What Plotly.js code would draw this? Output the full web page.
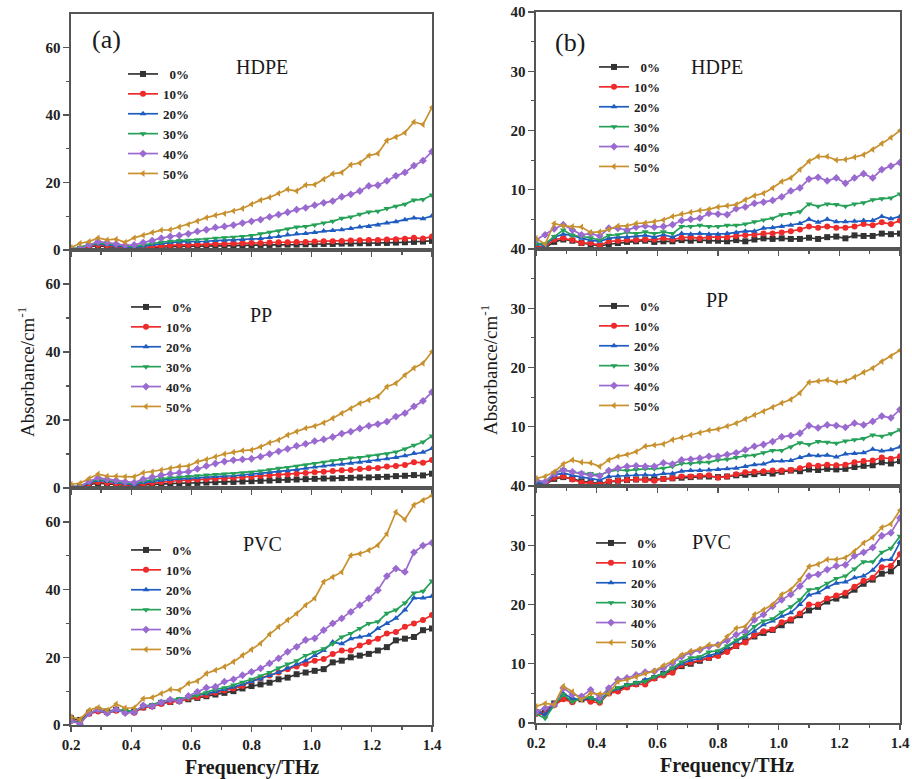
<!DOCTYPE html>
<html>
<head>
<meta charset="utf-8">
<script src="https://cdn.plot.ly/plotly-3.0.1.min.js"></script>
<style>html,body{margin:0;padding:0;background:#fff;}#chart{width:912px;height:779px;}</style>
</head>
<body>
<div id="chart"></div>
<script>
// Frequency axis (THz)
const freq = [0.20,0.23,0.26,0.29,0.32,0.35,0.38,0.41,0.44,0.47,0.50,0.53,0.56,0.59,0.62,0.65,0.68,0.71,0.74,0.77,0.80,0.83,0.86,0.89,0.92,0.95,0.98,1.01,1.04,1.07,1.10,1.13,1.16,1.19,1.22,1.25,1.28,1.31,1.34,1.37,1.40];
const seriesNames = ['0%','10%','20%','30%','40%','50%'];

// (a) HDPE
const aHDPE_0  = [0.1,0.3,1.0,1.2,1.0,0.8,0.6,0.4,0.6,0.8,0.9,1.0,1.1,1.1,1.2,1.2,1.3,1.3,1.3,1.4,1.4,1.5,1.5,1.6,1.6,1.6,1.7,1.7,1.8,1.8,1.9,1.9,2.0,2.0,2.1,2.1,2.2,2.3,2.4,2.5,2.7];
const aHDPE_10 = [0.2,0.4,1.2,1.5,1.3,1.0,0.8,0.5,0.8,1.0,1.2,1.4,1.5,1.5,1.6,1.7,1.8,1.8,1.9,2.0,2.1,2.1,2.2,2.3,2.3,2.4,2.4,2.5,2.6,2.6,2.7,2.8,2.9,3.0,3.0,3.1,3.2,3.3,3.6,3.4,4.0];
const aHDPE_20 = [0.3,0.5,1.5,1.8,1.6,1.2,1.0,0.8,1.2,1.6,2.0,2.2,2.4,2.4,2.5,2.6,2.8,2.9,3.0,3.1,3.3,3.4,3.7,4.0,4.5,4.8,4.9,5.2,5.6,5.8,6.0,6.4,6.8,7.0,7.4,8.0,8.4,9.0,9.5,9.3,10.1];
const aHDPE_30 = [0.3,0.8,1.6,2.0,1.8,1.5,1.3,1.0,1.5,2.0,2.3,2.6,2.8,2.9,3.0,3.2,3.5,3.6,3.8,4.0,4.3,4.8,5.3,5.6,6.2,6.8,7.0,7.4,8.0,8.5,9.4,9.8,10.6,11.3,11.5,12.3,13.0,13.6,14.8,15.0,16.3];
const aHDPE_40 = [0.5,0.3,1.5,2.5,2.2,1.8,1.4,1.5,2.2,2.8,3.5,4.0,4.3,4.8,5.5,6.0,6.7,7.0,7.4,8.0,8.5,9.0,9.8,10.5,11.2,12.0,12.5,13.3,14.0,14.5,15.8,16.5,17.5,19.0,19.2,20.5,22.0,23.0,25.0,26.5,29.2];
const aHDPE_50 = [0.7,2.0,2.5,3.6,3.0,3.2,2.3,3.6,4.4,5.2,5.9,6.0,6.8,7.6,8.6,9.6,10.3,10.8,11.6,12.3,13.6,14.8,15.6,16.8,18.0,17.5,19.3,19.4,21.0,22.6,23.0,25.3,25.8,28.0,28.6,32.5,33.5,34.8,38.0,37.2,42.3];

// (a) PP
const aPP_0  = [0.1,0.3,1.0,1.4,1.2,1.0,0.8,0.6,0.9,1.1,1.2,1.3,1.4,1.4,1.5,1.6,1.7,1.8,1.8,1.9,2.0,2.1,2.2,2.3,2.4,2.5,2.6,2.7,2.8,2.8,2.9,3.0,3.1,3.1,3.2,3.3,3.5,3.6,3.8,3.7,4.2];
const aPP_10 = [0.2,0.4,1.3,1.8,1.5,1.2,1.0,0.8,1.2,1.5,1.8,2.0,2.2,2.3,2.5,2.6,2.8,2.9,3.0,3.2,3.3,3.5,3.7,3.9,4.0,4.2,4.4,4.6,4.8,5.0,5.2,5.3,5.6,5.8,5.9,6.3,6.5,6.8,7.6,7.4,8.2];
const aPP_20 = [0.3,0.5,1.5,2.2,2.0,1.6,1.3,1.0,1.6,2.0,2.3,2.5,2.7,2.9,3.0,3.2,3.4,3.5,3.6,3.8,4.0,4.3,4.6,4.9,5.1,5.4,5.8,6.2,6.5,6.8,7.0,7.3,7.6,7.8,8.2,8.6,9.0,9.5,10.2,10.5,11.6];
const aPP_30 = [0.3,0.6,1.8,2.5,2.2,1.8,1.5,1.3,2.0,2.4,2.8,3.0,3.2,3.4,3.6,3.8,4.0,4.1,4.2,4.4,4.6,5.0,5.4,5.8,6.0,6.4,6.8,7.2,7.6,8.0,8.4,8.8,9.0,9.4,9.6,10.0,10.6,11.5,12.6,13.5,15.3];
const aPP_40 = [0.5,0.3,2.0,3.0,2.6,2.2,1.8,1.6,2.6,3.2,3.8,4.2,4.5,4.8,5.6,6.5,7.2,7.8,8.2,8.4,8.6,9.2,10.0,10.8,11.5,12.4,13.0,13.8,14.3,15.0,16.0,16.6,17.5,18.3,18.8,19.5,21.0,22.0,24.0,25.6,28.2];
const aPP_50 = [1.1,1.4,2.8,4.1,3.5,3.5,3.3,3.3,4.5,4.8,5.3,5.8,6.3,6.5,7.7,8.4,9.2,10.0,10.5,11.0,11.2,12.1,13.3,14.1,15.6,16.6,17.6,18.2,19.2,20.5,22.0,23.4,24.9,25.9,26.9,29.8,30.8,33.2,35.3,36.7,40.1];

// (a) PVC
const aPVC_0  = [2.0,1.5,3.5,4.5,4.0,4.5,4.0,4.0,5.2,5.6,6.5,6.8,7.2,7.6,8.0,8.5,9.0,9.5,10.0,10.8,11.5,12.0,12.5,13.5,14.0,15.0,15.5,16.0,16.5,18.5,19.0,20.0,20.5,21.0,22.0,23.0,25.0,25.5,26.0,28.0,28.5];
const aPVC_10 = [1.2,1.0,3.3,4.0,3.6,4.2,4.0,3.6,5.2,5.5,6.2,6.8,7.0,7.8,8.2,8.8,9.5,10.2,10.8,11.5,13.0,13.8,14.6,15.5,16.5,17.3,18.0,19.0,19.5,21.0,22.0,22.0,23.5,24.5,25.5,27.0,27.5,29.0,30.0,31.0,32.5];
const aPVC_20 = [1.5,0.5,3.5,4.3,3.5,4.3,4.0,3.8,5.5,5.8,6.5,7.2,7.5,8.2,9.0,9.2,9.8,10.5,11.2,12.0,12.8,13.6,14.6,15.6,16.8,18.0,19.0,20.5,22.0,24.5,24.0,25.5,26.0,26.5,28.5,30.0,31.5,34.0,37.5,37.5,38.0];
const aPVC_30 = [1.0,0.8,3.5,4.5,3.8,4.5,4.3,4.0,5.5,6.0,7.0,7.5,7.8,8.0,8.8,9.5,10.5,11.0,11.8,12.6,13.5,14.5,15.5,16.8,18.0,19.0,20.5,21.5,22.5,24.0,26.0,27.0,28.5,30.0,30.5,33.0,34.0,36.0,39.0,39.5,42.5];
const aPVC_40 = [1.2,0.3,3.5,4.5,3.5,4.6,3.5,3.8,5.8,5.5,6.7,7.5,7.0,8.6,9.8,11.0,11.3,12.8,13.5,14.7,15.7,16.7,18.2,19.7,21.6,23.1,25.1,25.6,28.0,30.0,31.5,33.4,35.4,37.4,39.8,44.0,46.2,45.2,51.0,53.0,53.8];
const aPVC_50 = [2.4,1.7,4.4,5.2,4.4,6.2,5.0,5.1,7.8,8.1,9.3,10.5,10.3,12.3,13.0,15.2,16.2,17.2,18.7,20.6,22.3,24.1,26.8,29.0,31.0,32.9,35.4,37.4,42.3,43.7,45.2,50.1,50.6,51.6,53.1,56.5,62.9,60.7,65.0,66.4,67.8];

// (b) HDPE
const bHDPE_0  = [0.3,0.2,1.2,1.6,1.4,1.0,0.8,0.5,0.8,1.0,1.2,1.3,1.4,1.2,1.3,1.3,1.5,1.4,1.5,1.4,1.4,1.3,1.5,1.3,1.6,1.8,1.7,1.8,1.7,1.7,1.9,1.7,2.0,2.1,1.8,2.3,2.2,2.2,2.6,2.5,2.6];
const bHDPE_10 = [0.5,0.3,1.6,1.8,1.5,1.0,1.0,0.6,1.3,1.4,1.5,1.5,1.6,1.6,1.8,1.6,1.9,2.0,1.8,2.0,2.0,2.0,2.2,2.3,2.4,2.6,2.6,2.8,3.0,3.3,3.8,3.6,3.8,3.6,3.6,3.8,4.2,4.0,4.5,4.2,4.8];
const bHDPE_20 = [0.8,0.6,2.0,2.5,2.3,1.8,1.5,1.3,1.8,2.0,2.0,2.2,2.3,2.0,2.4,2.0,2.6,2.5,2.6,2.5,2.5,2.6,2.8,3.0,3.0,3.5,3.6,3.8,4.0,4.3,5.0,4.5,5.0,4.6,4.6,4.7,4.8,4.8,5.5,5.1,5.5];
const bHDPE_30 = [0.9,0.9,2.1,3.2,2.3,2.1,1.9,1.5,2.3,2.4,2.8,2.6,2.9,2.6,2.9,2.6,3.8,3.8,4.0,3.8,3.8,4.0,4.0,4.2,4.6,4.9,5.2,5.8,6.0,6.3,7.6,7.2,7.6,7.5,7.2,7.6,7.8,8.3,8.5,8.6,9.3];
const bHDPE_40 = [1.5,2.4,3.4,4.1,3.2,2.4,2.6,2.2,3.5,3.5,3.2,3.7,3.9,3.7,3.8,4.1,4.8,5.0,5.2,6.0,5.9,5.8,6.8,7.1,7.7,7.9,8.2,8.8,9.8,10.3,11.8,12.1,11.5,12.0,11.1,12.0,12.7,12.0,13.4,14.0,14.6];
const bHDPE_50 = [1.8,0.8,4.3,3.9,3.8,3.7,2.8,2.9,3.3,3.9,3.9,4.3,4.4,4.6,4.9,5.5,5.9,6.2,6.5,6.7,7.1,7.3,7.5,8.3,9.0,9.4,10.3,11.4,12.0,13.4,14.8,15.6,15.6,15.0,15.1,15.5,15.9,16.8,17.8,18.8,20.0];

// (b) PP
const bPP_0  = [0.4,0.2,1.2,1.5,1.2,0.8,0.6,0.4,0.7,0.9,1.0,1.1,1.1,1.1,1.2,1.3,1.4,1.5,1.6,1.6,1.5,1.6,1.8,1.9,2.0,2.2,2.1,2.4,2.6,2.5,2.8,2.7,2.9,2.8,2.9,3.2,3.4,3.5,4.0,3.8,4.2];
const bPP_10 = [0.4,0.2,1.4,1.6,1.1,0.6,0.5,0.3,0.8,0.9,1.0,1.1,1.0,0.9,1.2,1.3,1.6,1.6,1.7,1.8,1.4,1.6,2.0,2.3,2.4,2.5,2.6,2.6,2.7,3.0,3.5,3.4,3.6,3.5,3.6,4.0,4.2,4.3,4.8,4.6,5.0];
const bPP_20 = [0.6,0.4,1.8,2.2,1.8,1.5,1.2,1.0,1.6,1.7,1.8,1.9,1.9,1.8,2.1,2.1,2.5,2.6,2.6,2.7,2.8,2.9,3.0,3.3,3.6,3.7,4.2,4.2,4.3,4.8,5.2,5.1,5.2,4.9,5.4,5.5,5.6,6.2,5.9,6.1,6.6];
const bPP_30 = [0.9,0.6,2.2,2.8,2.3,2.2,2.1,1.9,2.4,2.7,2.6,2.8,2.9,2.9,3.0,3.3,3.8,3.8,4.0,4.0,4.4,4.5,4.8,5.1,5.2,5.6,6.0,6.0,6.6,7.3,7.0,7.5,7.4,7.2,7.6,7.8,8.0,8.6,8.4,8.8,9.5];
const bPP_40 = [1.0,0.7,2.1,2.7,2.4,2.1,1.8,1.7,2.6,3.0,3.3,3.4,3.3,3.3,3.9,3.7,4.4,4.5,4.7,5.0,5.0,5.3,5.6,6.1,6.7,7.0,7.5,8.3,8.5,8.9,10.2,9.8,10.3,10.2,9.9,10.6,10.3,10.9,11.8,11.5,12.9];
const bPP_50 = [1.3,1.6,2.4,3.7,4.4,4.0,3.9,3.3,4.4,5.0,5.3,5.8,6.7,6.9,7.1,7.8,8.2,8.6,9.0,9.4,9.6,10.1,10.6,11.3,12.0,12.6,13.3,14.0,14.6,15.7,17.5,17.7,17.9,17.5,17.7,18.4,19.2,19.9,21.0,21.9,22.9];

// (b) PVC
const bPVC_0  = [1.8,1.9,3.3,4.2,3.8,4.0,3.9,3.8,5.2,5.6,6.2,6.6,7.0,7.6,8.3,9.0,9.6,10.0,10.5,11.0,11.5,12.3,13.0,13.8,14.6,15.2,15.7,16.5,17.3,18.2,19.0,19.6,20.5,21.0,21.5,22.5,23.5,24.2,25.2,25.6,27.0];
const bPVC_10 = [1.5,1.5,3.0,4.0,3.5,4.2,3.6,3.4,5.0,5.3,6.0,6.5,6.5,7.5,8.0,8.5,9.8,10.2,10.7,11.0,11.3,12.0,13.0,13.6,14.8,15.5,15.8,17.0,17.5,18.5,20.0,20.0,21.0,21.5,22.0,23.0,24.0,24.5,26.3,26.5,28.5];
const bPVC_20 = [2.0,1.4,3.0,5.0,4.1,4.0,4.2,3.9,5.2,5.8,6.4,6.7,7.3,7.8,8.4,9.2,10.0,10.6,10.9,11.4,11.8,12.8,13.8,14.6,15.5,16.6,17.2,18.0,18.6,20.0,21.6,22.0,22.9,23.6,23.8,24.5,24.8,25.8,27.5,27.6,30.5];
const bPVC_30 = [1.5,0.8,3.0,4.8,3.6,4.2,4.3,3.5,5.2,6.0,6.4,6.8,7.0,7.8,8.3,9.3,10.3,11.0,11.2,12.0,12.2,13.0,14.0,14.8,16.3,17.2,17.6,18.7,19.6,20.8,22.5,22.7,23.6,24.4,24.8,26.0,27.2,27.2,28.8,29.5,31.5];
const bPVC_40 = [1.9,2.5,3.1,5.9,4.8,4.5,5.6,4.3,5.9,7.3,7.6,8.1,8.6,8.7,9.3,10.1,11.2,11.9,12.3,12.9,13.2,13.9,14.9,15.5,17.4,18.3,19.7,20.8,21.7,23.1,24.8,25.1,25.9,26.5,26.7,28.2,28.8,29.6,31.6,32.1,34.6];
const bPVC_50 = [2.8,3.3,3.1,6.2,5.3,3.9,5.0,4.9,5.0,7.0,7.3,7.8,8.4,8.8,9.7,10.4,11.5,12.1,12.5,13.2,13.1,14.6,16.0,16.3,18.3,19.1,20.0,21.7,22.5,24.2,26.4,26.8,27.6,27.6,27.9,29.0,30.4,31.3,33.0,33.6,35.9];

const panelSeries = [
  [aHDPE_0,aHDPE_10,aHDPE_20,aHDPE_30,aHDPE_40,aHDPE_50],
  [aPP_0,aPP_10,aPP_20,aPP_30,aPP_40,aPP_50],
  [aPVC_0,aPVC_10,aPVC_20,aPVC_30,aPVC_40,aPVC_50],
  [bHDPE_0,bHDPE_10,bHDPE_20,bHDPE_30,bHDPE_40,bHDPE_50],
  [bPP_0,bPP_10,bPP_20,bPP_30,bPP_40,bPP_50],
  [bPVC_0,bPVC_10,bPVC_20,bPVC_30,bPVC_40,bPVC_50]
];
const panelLabels = ['HDPE','PP','PVC','HDPE','PP','PVC'];

// styling
const colors  = ['#333333','#ee2a2a','#1f5cc0','#26a158','#9a6ad0','#c8912e'];
const symbols = ['square','circle','triangle-up','triangle-down','diamond','triangle-left'];
const legendNames = ['\u00a0\u00a00%','10%','20%','30%','40%','50%'];
const W = 912, H = 779;
const px = v => v / W, py = v => 1 - v / H;

// plot-area pixel boxes [left,right,top,bottom]
const boxes = [
  [71,432,14,250],[71,432,250,488],[71,432,488,725],
  [536,900,12,249],[536,900,249,486],[536,900,486,723]
];
// legend anchor (line start x, first row centre y)
const legPos = [[122,79],[125,312],[125,555],[593,72],[593,311],[590,548]];
// panel material label centres
const labPos = [[262,67],[261,315],[262,544],[717,67],[717,300],[711,542]];

const traces = [];
panelSeries.forEach((ser, p) => {
  ser.forEach((vals, s) => {
    traces.push({
      x: freq, y: vals, type: 'scatter', mode: 'lines+markers',
      name: legendNames[s],
      xaxis: p === 0 ? 'x' : 'x' + (p + 1),
      yaxis: p === 0 ? 'y' : 'y' + (p + 1),
      legend: p === 0 ? 'legend' : 'legend' + (p + 1),
      line: {color: colors[s], width: 1.7},
      marker: {color: colors[s], symbol: symbols[s], size: 6}
    });
  });
});

const axisColor = '#555555';
const tickFont = {family: 'Liberation Serif', size: 15, color: '#222222', weight: 'bold'};
const layout = {
  width: W, height: H,
  margin: {l: 0, r: 0, t: 0, b: 0},
  paper_bgcolor: '#ffffff', plot_bgcolor: '#ffffff',
  showlegend: true,
  annotations: []
};

boxes.forEach((b, p) => {
  const n = p === 0 ? '' : String(p + 1);
  const bottom = (p === 2 || p === 5);
  const leftCol = p < 3;
  layout['xaxis' + n] = {
    domain: [px(b[0]), px(b[1])], anchor: 'y' + n,
    range: [0.2, 1.4], tickmode: 'array',
    tickvals: [0.2,0.4,0.6,0.8,1.0,1.2,1.4],
    ticktext: ['0.2','0.4','0.6','0.8','1.0','1.2','1.4'],
    showticklabels: bottom, tickfont: tickFont,
    ticks: 'outside', ticklen: 5, tickwidth: 1.3, tickcolor: axisColor,
    minor: {tickmode: 'array', tickvals: [0.3,0.5,0.7,0.9,1.1,1.3], ticks: 'outside', ticklen: 3, tickwidth: 1.2, tickcolor: axisColor},
    showline: true, linecolor: axisColor, linewidth: 1.6, mirror: true,
    showgrid: false, zeroline: false, fixedrange: true
  };
  layout['yaxis' + n] = {
    domain: [py(b[3]), py(b[2])], anchor: 'x' + n,
    range: leftCol ? [0, 70] : [0, 40], tickmode: 'array',
    tickvals: leftCol ? [0,20,40,60] : (bottom ? [0,10,20,30,40] : [10,20,30,40]),
    tickfont: tickFont,
    ticks: 'outside', ticklen: 6, tickwidth: 1.3, tickcolor: axisColor,
    minor: {tickmode: 'array', tickvals: leftCol ? [10,30,50] : [5,15,25,35], ticks: 'outside', ticklen: 3, tickwidth: 1.2, tickcolor: axisColor},
    showline: true, linecolor: axisColor, linewidth: 1.6, mirror: true,
    showgrid: false, zeroline: false, fixedrange: true
  };
  const lg = legPos[p];
  layout['legend' + n] = {
    x: px(lg[0] + 1), y: py(lg[1] - 20), xanchor: 'left', yanchor: 'top',
    bgcolor: 'rgba(0,0,0,0)', borderwidth: 0, tracegroupgap: 0,
    font: {family: 'Liberation Serif', size: 13, color: '#222222', weight: 'bold'}
  };
  layout.annotations.push({
    text: panelLabels[p], xref: 'paper', yref: 'paper',
    x: px(labPos[p][0]), y: py(labPos[p][1]), xanchor: 'center', yanchor: 'middle',
    showarrow: false, font: {family: 'Liberation Serif', size: 20, color: '#1a1a1a'}
  });
});

// panel letters
layout.annotations.push({text: '(a)', xref: 'paper', yref: 'paper', x: px(106), y: py(40), xanchor: 'center', yanchor: 'middle', showarrow: false, font: {family: 'Liberation Serif', size: 26, color: '#1a1a1a'}});
layout.annotations.push({text: '(b)', xref: 'paper', yref: 'paper', x: px(570), y: py(43), xanchor: 'center', yanchor: 'middle', showarrow: false, font: {family: 'Liberation Serif', size: 26, color: '#1a1a1a'}});
// axis titles
const yTitle = 'Absorbance/cm<sup>-1</sup>';
layout.annotations.push({text: yTitle, xref: 'paper', yref: 'paper', x: px(26), y: py(372), xanchor: 'center', yanchor: 'middle', textangle: -90, showarrow: false, font: {family: 'Liberation Serif', size: 19, color: '#1a1a1a'}});
layout.annotations.push({text: yTitle, xref: 'paper', yref: 'paper', x: px(489), y: py(370), xanchor: 'center', yanchor: 'middle', textangle: -90, showarrow: false, font: {family: 'Liberation Serif', size: 19, color: '#1a1a1a'}});
layout.annotations.push({text: 'Frequency/THz', xref: 'paper', yref: 'paper', x: px(252), y: py(767), xanchor: 'center', yanchor: 'middle', showarrow: false, font: {family: 'Liberation Serif', size: 20, color: '#1a1a1a', weight: 'bold'}});
layout.annotations.push({text: 'Frequency/THz', xref: 'paper', yref: 'paper', x: px(727), y: py(765), xanchor: 'center', yanchor: 'middle', showarrow: false, font: {family: 'Liberation Serif', size: 20, color: '#1a1a1a', weight: 'bold'}});

Plotly.newPlot('chart', traces, layout, {displayModeBar: false, staticPlot: true});
</script>
</body>
</html>
